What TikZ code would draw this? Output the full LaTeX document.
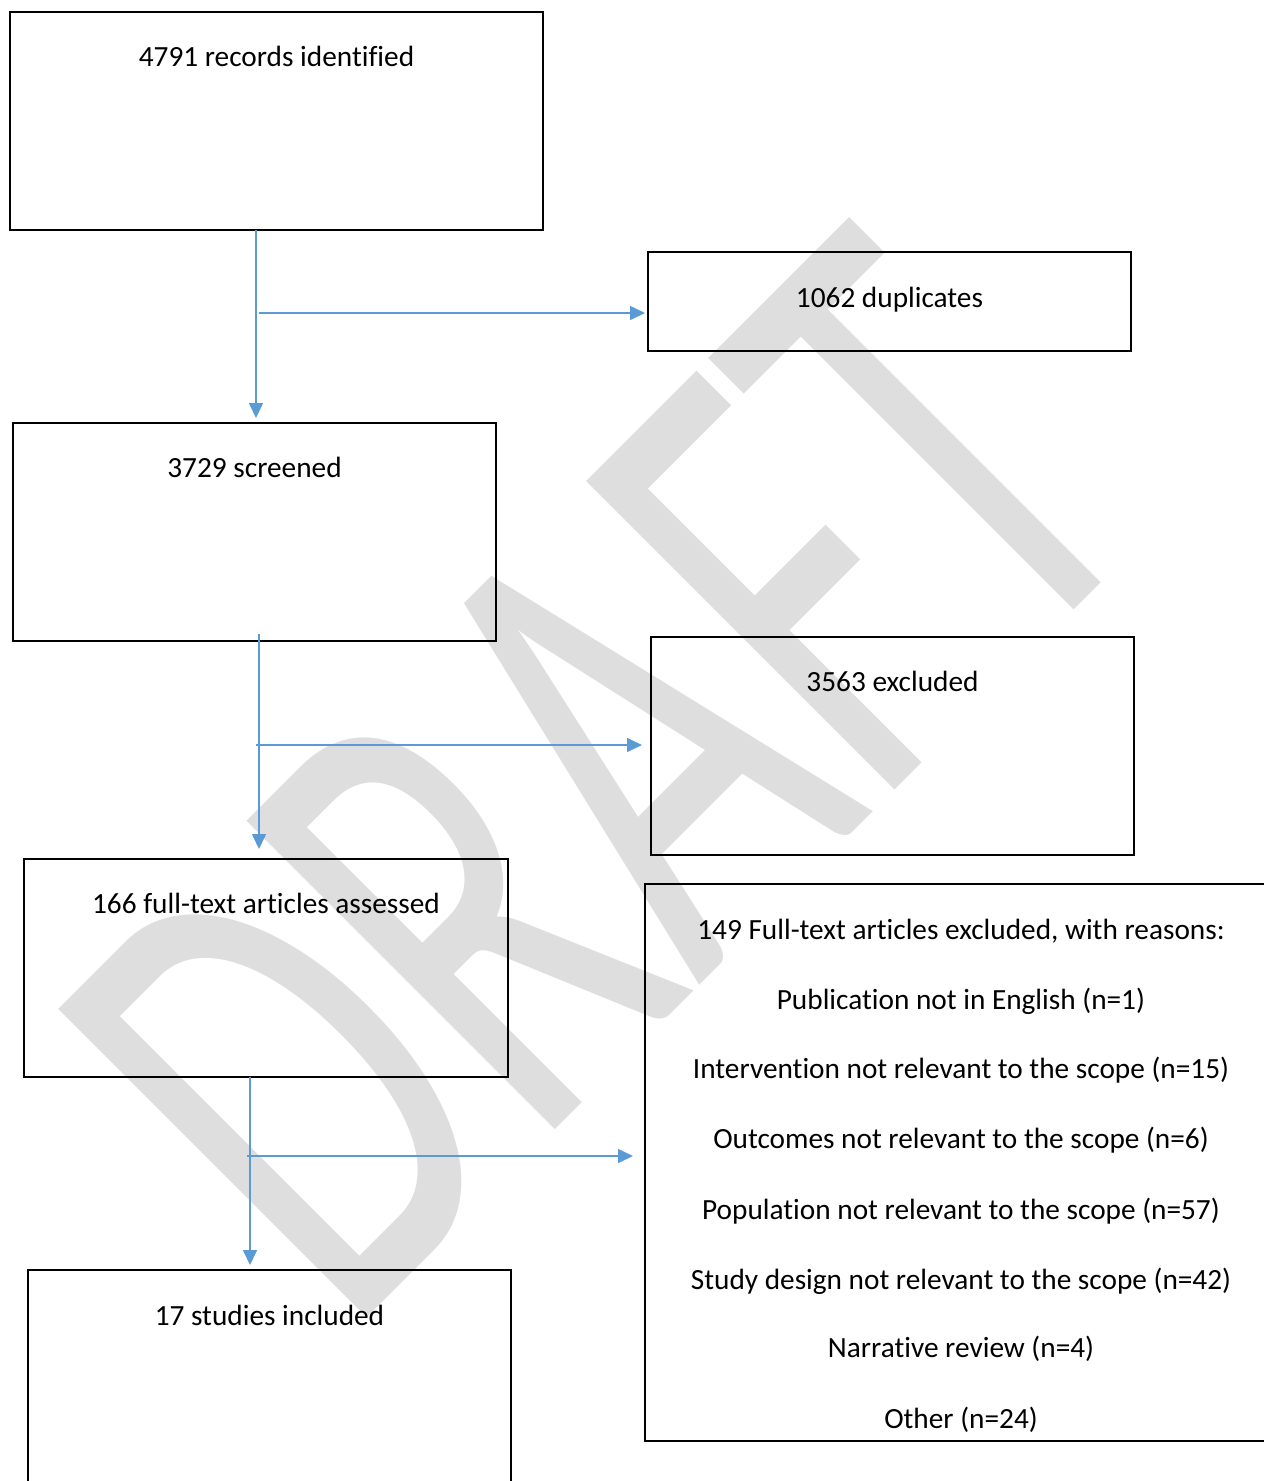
\documentclass[tikz,border=0pt]{standalone}
\usepackage{fontspec}
\setmainfont{Carlito}[Ligatures={NoCommon,NoContextual}]
\usetikzlibrary{arrows.meta}
\definecolor{wm}{RGB}{222,222,222}
\definecolor{arr}{RGB}{91,155,213}
\begin{document}
\begin{tikzpicture}[x=1pt,y=-1pt,
  box/.style={draw=black, line width=2.2pt, rectangle, inner sep=0pt, outer sep=0pt, anchor=north west},
  lbl/.style={font=\fontsize{29.3}{35}\selectfont, inner sep=0pt, text height=20pt, text depth=6pt},
  flow/.style={draw=arr, line width=1.6pt, -{Triangle[length=15pt,width=14pt]}}]
\useasboundingbox (0,0) rectangle (1264,1481);
\clip (0,0) rectangle (1264,1481);
% watermark
\node[rotate=45, xscale=4.3, yscale=6.8, text=wm, inner sep=0pt, outer sep=0pt,
      font=\fontsize{100}{100}\selectfont] (wmk) at (600,776) {DRAFT};
% boxes
\node[box, minimum width=533pt, minimum height=218pt] (b1) at (10,12) {};
\node[box, minimum width=483pt, minimum height=99pt]  (b2) at (648,252) {};
\node[box, minimum width=483pt, minimum height=218pt] (b3) at (13,423) {};
\node[box, minimum width=483pt, minimum height=218pt] (b4) at (651,637) {};
\node[box, minimum width=484pt, minimum height=218pt] (b5) at (24,859) {};
\node[box, minimum width=632pt, minimum height=557pt] (b6) at (645,884) {};
\node[box, minimum width=483pt, minimum height=218pt] (b7) at (28,1270) {};
% labels
\node[lbl] (t1) at ([yshift=-47pt]b1.north) {4791 records identified};
\node[lbl] (t2) at ([yshift=-48pt]b2.north) {1062 duplicates};
\node[lbl] (t3) at ([yshift=-47pt]b3.north) {3729 screened};
\node[lbl] (t4) at ([yshift=-47pt]b4.north) {3563 excluded};
\node[lbl] (t5) at ([yshift=-47pt]b5.north) {166 full-text articles assessed};
\node[lbl] (t7) at ([yshift=-48pt]b7.north) {17 studies included};
\node[lbl] (r1) at (961,932) {149 Full-text articles excluded, with reasons:};
\node[lbl] (r2) at (961,1002) {Publication not in English (n=1)};
\node[lbl] (r3) at (961,1071) {Intervention not relevant to the scope (n=15)};
\node[lbl] (r4) at (961,1141) {Outcomes not relevant to the scope (n=6)};
\node[lbl] (r5) at (961,1212) {Population not relevant to the scope (n=57)};
\node[lbl] (r6) at (961,1282) {Study design not relevant to the scope (n=42)};
\node[lbl] (r7) at (961,1350) {Narrative review (n=4)};
\node[lbl] (r8) at (961,1421) {Other (n=24)};
% connector points
\coordinate (v1) at (256,231);
\coordinate (h1) at (259,313);
\coordinate (v2) at (259,634);
\coordinate (h2) at (256,745);
\coordinate (v3) at (250,1077);
\coordinate (h3) at (247,1156);
% connectors
\draw[flow, shorten >=5pt] (b1.south -| v1) -- (b3.north -| v1);
\draw[flow, shorten >=3pt] (h1) -- (b2.west |- h1);
\draw[flow, shorten >=10pt] (v2) -- (b5.north -| v2);
\draw[flow, shorten >=9pt] (h2) -- (b4.west |- h2);
\draw[flow, shorten >=5pt] (b5.south -| v3) -- (b7.north -| v3);
\draw[flow, shorten >=12pt] (h3) -- (b6.west |- h3);
\end{tikzpicture}
\end{document}
